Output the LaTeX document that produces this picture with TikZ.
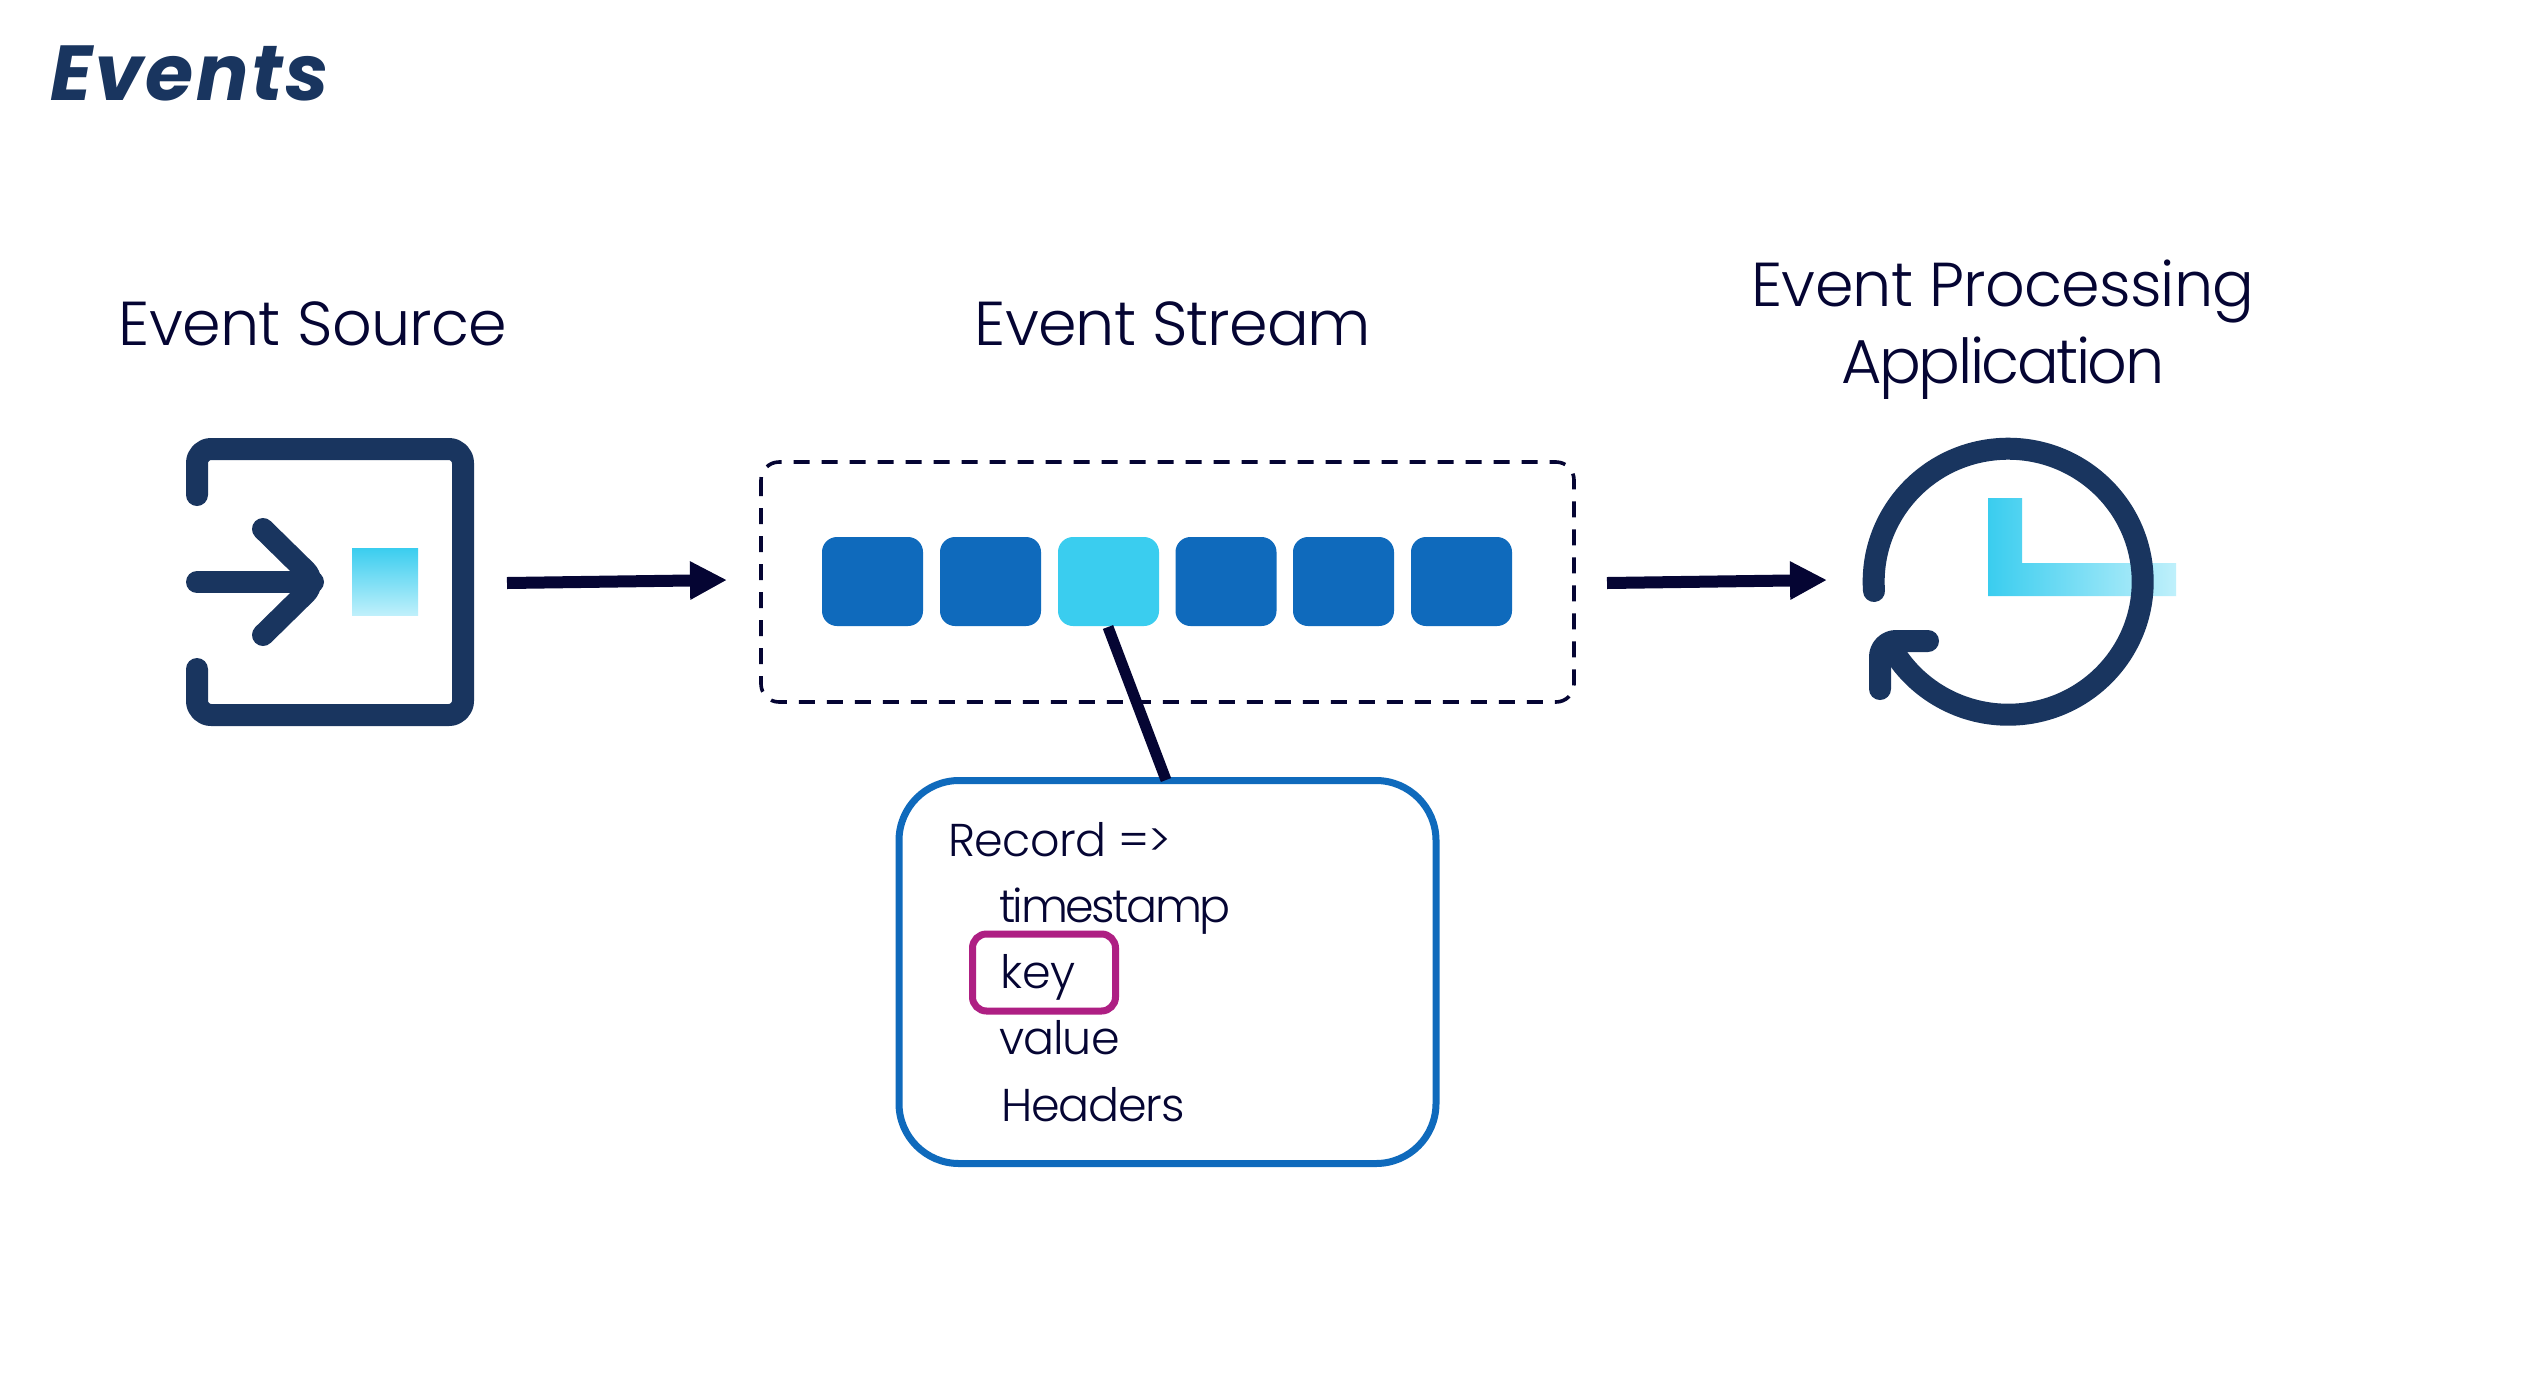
\documentclass[tikz,border=0pt]{standalone}
\usepackage{fontspec}
\setmainfont{Poppins}[UprightFont=* Light,BoldItalicFont=* Bold Italic]
\usetikzlibrary{arrows.meta}
\definecolor{navy}{HTML}{19355F}
\definecolor{ink}{HTML}{050533}
\definecolor{blueA}{HTML}{0F6ABC}
\definecolor{cyanA}{HTML}{3ACDEF}
\definecolor{cyanB}{HTML}{BFF0FB}
\definecolor{magA}{HTML}{AE1F83}
\newcommand{\trk}[1]{\addfontfeature{LetterSpace=#1}}
\tikzset{
 x=1pt,y=-1pt,
 icon/.style={draw=navy,line width=22pt,line cap=round,line join=round},
 flow/.style={draw=ink,line width=12pt,-{Triangle[length=37pt,width=36pt]}},
 cell/.style={fill=blueA,rounded corners=15pt,minimum width=101pt,minimum height=89pt,inner sep=0pt,outer sep=0pt},
 lbl/.style={text=ink,inner sep=0pt,outer sep=0pt,font=\fontsize{62}{78}\selectfont,align=center},
 rec/.style={text=ink,inner sep=0pt,outer sep=0pt,anchor=base west,font=\fontsize{46}{56}\selectfont},
}
\begin{document}
\begin{tikzpicture}
\useasboundingbox (0,0) rectangle (2524,1398);
\fill[white] (0,0) rectangle (2524,1398);
% title
\node[inner sep=0pt,anchor=base west,text=navy,font=\fontsize{78}{90}\selectfont\bfseries\itshape] (title) at (50,100) {\trk{3}Events};
% labels
\node[lbl,anchor=base] (lsrc) at (313,345) {\trk{-1.1}Event Source};
\node[lbl,anchor=base] (lstr) at (1173,345) {\trk{-1.5}Event Stream};
\node[lbl,anchor=base] (lapp1) at (2003,306) {\trk{-1.3}Event Processing};
\node[lbl,anchor=base] (lapp2) at (2003,383) {\trk{-4}Application};
% source icon
\draw[icon,rounded corners=14pt] (197,495) -- (197,449) -- (463,449) -- (463,715) -- (197,715) -- (197,669);
\draw[icon] (197,582) -- (313,582);
\draw[icon,rounded corners=16pt] (263,529) -- (317,582) -- (263,635);
\path[top color=cyanA,bottom color=cyanB] (352,548) rectangle (418,615);
% stream
\draw[ink,line width=3.6pt,dash pattern=on 16pt off 12pt,rounded corners=18pt] (761,462) rectangle (1574,702);
\node[cell] (c1) at (872.5,581.5) {};
\node[cell] (c2) at (990.5,581.5) {};
\node[cell,fill=cyanA] (c3) at (1108.5,581.5) {};
\node[cell] (c4) at (1226,581.5) {};
\node[cell] (c5) at (1343.5,581.5) {};
\node[cell] (c6) at (1461.5,581.5) {};
% arrows
\coordinate (a1s) at (507,583);
\coordinate (a1e) at (727,580);
\coordinate (a2s) at (1607,583);
\coordinate (a2e) at (1827,580);
\draw[flow] (a1s) -- (a1e);
\draw[flow] (a2s) -- (a2e);
% clock hands
\path[left color=cyanA,right color=cyanB] (1988,498) -- (2022,498) -- (2022,563) -- (2176,563) -- (2176,596) -- (1988,596) -- cycle;
% clock
\draw[icon] (1874,591) arc[start angle=184,end angle=-149,x radius=134.5pt,y radius=133pt];
\draw[icon,rounded corners=16pt] (1928,641) -- (1880,641) -- (1880,689);
% record
\node[draw=blueA,line width=7pt,rounded corners=60pt,fill=white,minimum width=537pt,minimum height=383pt,inner sep=0pt] (record) at (1167.5,972) {};
\coordinate (cs) at (1108,627);
\coordinate (ce) at (1166,780);
\draw[ink,line width=11pt] (cs) -- (ce);
\node[rec] (r1) at (948,856) {\trk{-1.2}Record =>};
\node[rec] (r2) at (999,922) {\trk{-5.4}timestamp};
\node[rec] (r3) at (1000,988) {key};
\node[rec] (r4) at (999,1054) {\trk{-2.1}value};
\node[rec] (r5) at (1001,1121) {\trk{-2.5}Headers};
\node[draw=magA,line width=7pt,rounded corners=14pt,minimum width=143pt,minimum height=77pt,inner sep=0pt] (keybox) at (1044,972.5) {};
\end{tikzpicture}
\end{document}
